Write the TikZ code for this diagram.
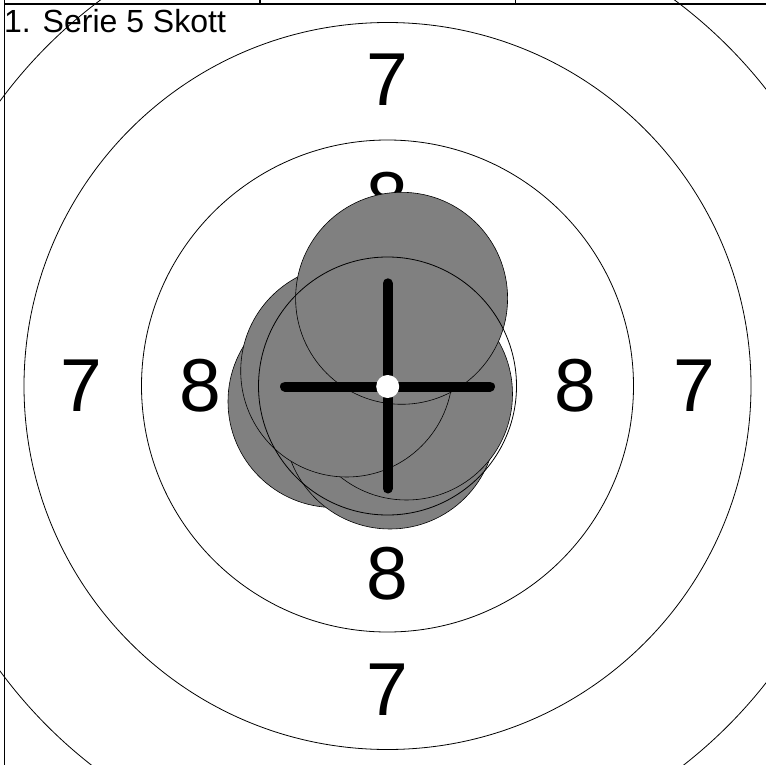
\documentclass[tikz,border=0pt]{standalone}
\usepackage{fontspec}
\setmainfont{Liberation Sans}
\definecolor{shotgray}{HTML}{808080}
\begin{document}
\begin{tikzpicture}[x=1pt,y=-1pt,
  ring/.style={draw=black,line width=0.8pt},
  shot/.style={draw=black,line width=0.6pt,fill=shotgray},
  num/.style={font=\fontsize{75}{75}\selectfont, inner sep=0pt, anchor=center},
  frameline/.style={draw=black,line width=1.6pt},
  cross/.style={draw=black,line width=10pt,line cap=round}]
\useasboundingbox (0,0) rectangle (766,765);
\clip (0,0) rectangle (766,765);
\coordinate (c) at (387.5,386);
% rings
\draw[ring] (c) circle[radius=481];
\draw[ring] (c) circle[radius=363.5];
\draw[ring] (c) circle[radius=246];
% ring numbers
\node[num] (n7t) at (387.5,80) {7};
\node[num] (n7b) at (387.5,690) {7};
\node[num] (n7l) at (81.5,385.5) {7};
\node[num] (n7r) at (694,385.5) {7};
\node[num] (n8t) at (387.5,198.5) {8};
\node[num] (n8b) at (387.5,573.5) {8};
\node[num] (n8l) at (200,386) {8};
\node[num] (n8r) at (575,386) {8};
% shots
\draw[shot] (334,401.5) circle[radius=106];
\draw[shot] (390,423) circle[radius=106];
\draw[shot] (406.5,394) circle[radius=106];
\draw[shot] (346.7,371) circle[radius=106];
\draw[shot] (401.6,298.3) circle[radius=106];
% inner ring
\draw[ring] (c) circle[radius=129];
% crosshair
\draw[cross] (387.7,283.3) -- (387.7,488.5);
\draw[cross] (285,386.5) -- (490,386.5);
\fill[white] (387.7,386.5) circle[radius=11.5];
% frame
\draw[frameline] (4.5,4) -- (766,4);
\draw[frameline] (4.5,0) -- (4.5,765);
\draw[frameline] (260,0) -- (260,4);
\draw[frameline] (515.5,0) -- (515.5,4);
% title
\node[anchor=base west, inner sep=0pt, font=\fontsize{32}{32}\selectfont] (title) at (4,33) {1. Serie 5 Skott};
\end{tikzpicture}
\end{document}
